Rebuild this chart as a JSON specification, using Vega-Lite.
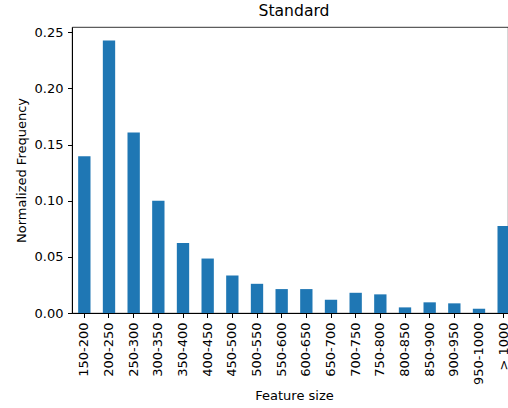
{
  "$schema": "https://vega.github.io/schema/vega-lite/v6.json",
  "autosize": {"type": "none"},
  "padding": {"left": 72, "top": 27, "right": 0, "bottom": 95},
  "width": 436,
  "height": 286,
  "title": {"text": "Standard", "fontSize": 15.6, "font": "DejaVu Sans", "fontWeight": "normal", "color": "#000", "anchor": "middle", "dx": 4, "offset": 7},
  "data": {"values": [
    {"bin": "150-200", "freq": 0.1396},
    {"bin": "200-250", "freq": 0.2426},
    {"bin": "250-300", "freq": 0.1607},
    {"bin": "300-350", "freq": 0.0999},
    {"bin": "350-400", "freq": 0.0623},
    {"bin": "400-450", "freq": 0.0485},
    {"bin": "450-500", "freq": 0.0334},
    {"bin": "500-550", "freq": 0.026},
    {"bin": "550-600", "freq": 0.0213},
    {"bin": "600-650", "freq": 0.0213},
    {"bin": "650-700", "freq": 0.0118},
    {"bin": "700-750", "freq": 0.018},
    {"bin": "750-800", "freq": 0.0166},
    {"bin": "800-850", "freq": 0.005},
    {"bin": "850-900", "freq": 0.0095},
    {"bin": "900-950", "freq": 0.0086},
    {"bin": "950-1000", "freq": 0.0038},
    {"bin": "> 1000", "freq": 0.0774}
  ]},
  "mark": {"type": "bar", "color": "#1f77b4"},
  "encoding": {
    "x": {
      "field": "bin", "type": "nominal", "sort": null,
      "scale": {"range": [0, 444], "paddingInner": 0.5, "paddingOuter": 0.25},
      "axis": {"title": "Feature size", "labelAngle": -90, "labelFont": "DejaVu Sans", "labelFontSize": 13, "labelColor": "#000",
               "titleFont": "DejaVu Sans", "titleFontSize": 13, "titleFontWeight": "normal", "titleColor": "#000", "titlePadding": 5,
               "tickSize": 4.5, "tickColor": "#000", "domainColor": "#000", "labelPadding": 4.5, "grid": false}
    },
    "y": {
      "field": "freq", "type": "quantitative",
      "scale": {"domain": [0, 0.2547], "nice": false, "zero": true},
      "axis": {"title": "Normalized Frequency", "values": [0, 0.05, 0.1, 0.15, 0.2, 0.25], "format": ".2f",
               "labelFont": "DejaVu Sans", "labelFontSize": 13, "labelColor": "#000",
               "titleFont": "DejaVu Sans", "titleFontSize": 13, "titleFontWeight": "normal", "titleColor": "#000", "titlePadding": 6,
               "tickSize": 4.5, "tickColor": "#000", "domainColor": "#000", "labelPadding": 4.5, "grid": false}
    }
  },
  "config": {"view": {"stroke": "#000", "strokeWidth": 0.8}}
}
